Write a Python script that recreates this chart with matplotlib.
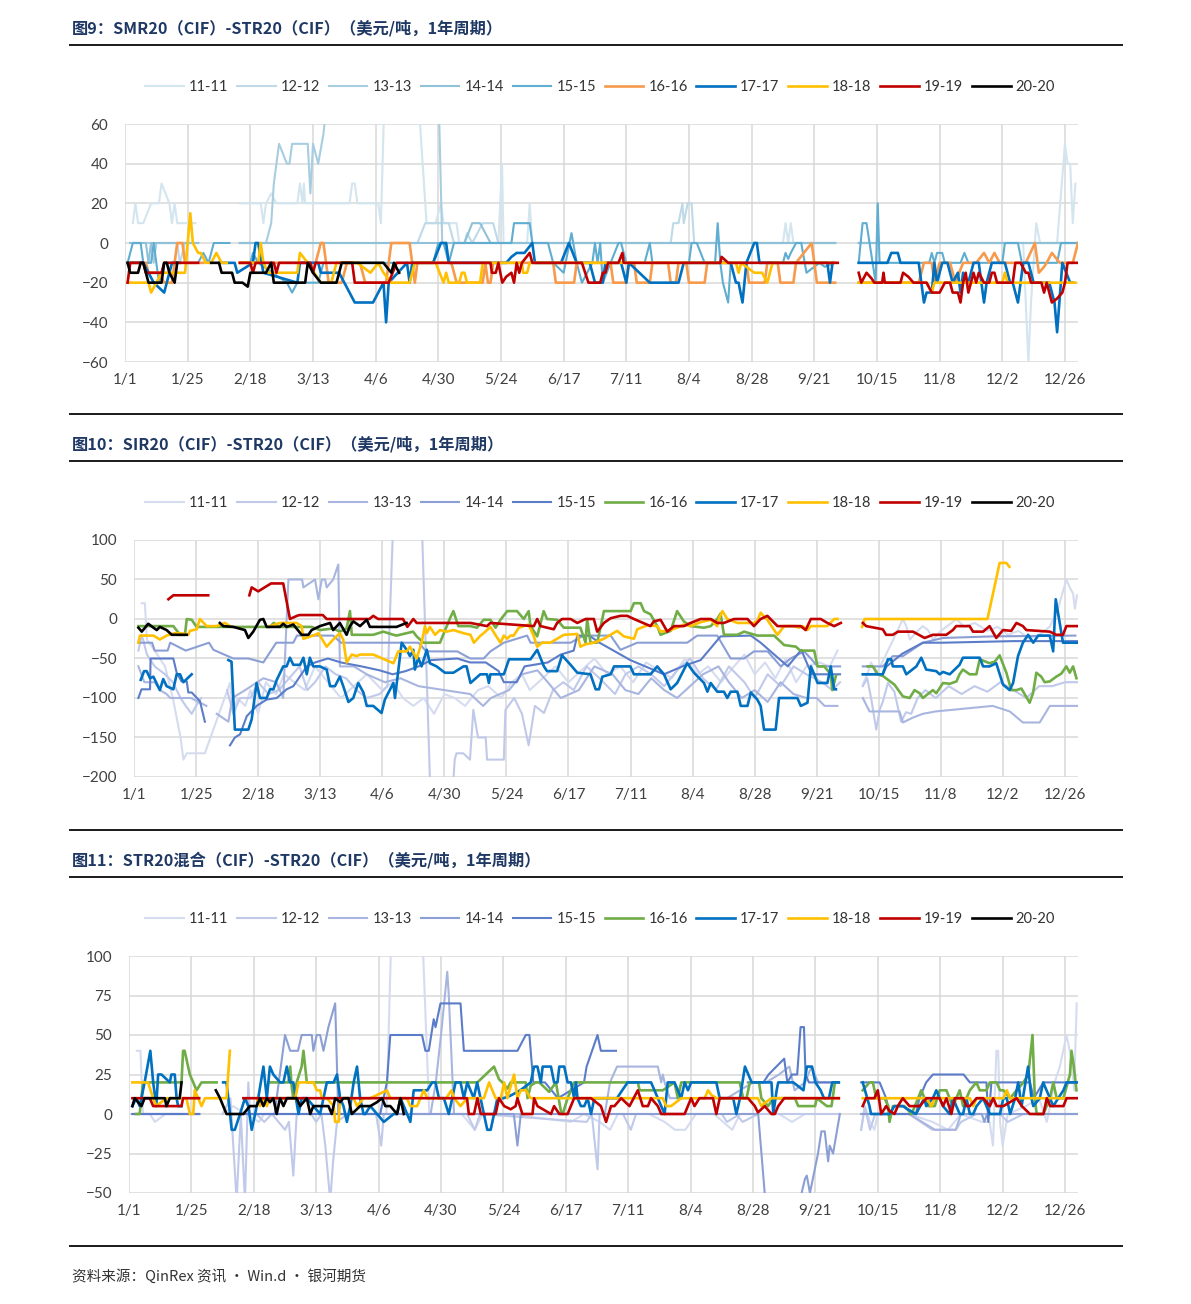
import numpy as np
import matplotlib
matplotlib.use("Agg")
import matplotlib.pyplot as plt
from matplotlib.lines import Line2D

plt.rcParams['font.family'] = ['Lato', 'Noto Sans CJK SC', 'DejaVu Sans']

# x = day offset from 1/1 (leap year), y = spread in USD/t; None = gap
tick_days = list(range(0, 361, 24))
tick_labels = ['1/1', '1/25', '2/18', '3/13', '4/6', '4/30', '5/24', '6/17',
               '7/11', '8/4', '8/28', '9/21', '10/15', '11/8', '12/2', '12/26']
series_names = ['11-11', '12-12', '13-13', '14-14', '15-15',
                '16-16', '17-17', '18-18', '19-19', '20-20']

# ---------------- chart 1: SMR20 - STR20 ----------------
p1_11 = [(3, 10), (4, 20), (5, 10), (7, 10), (10, 20), (13, 20), (14, 30), (17, 20), (18, 10), (19, 20), (20, 10), (27, 10), None,
         (44, 20), (52, 20), (53, 10), (54, 20), (56, 25), (58, 20), (66, 20), (67, 30), (68, 20), (68.5, 30), (69, 20), (86, 20),
         (87, 30), (88, 30), (89, 20), (97, 20), (98, 10), (99.5, 80), (112, 80), (115.5, 10), (119, 10), (121, 20), (122, 10),
         (127, 10), (128, 0), (143, 0), (144.4, 40), (145, 0), (154, 0), (155, 20), (156, 0), (252, 0), (253, 10), (254, 0),
         (255, 10), (256, 0), (272, 0), None,
         (281, 0), (344, 0), (346, -60), (347, -30), (349, 10), (350.5, 0), (357, 0), (360, 50), (361, 40), (362, 40), (363, 10), (364, 30)]
p1_12 = [(2, 0), (20, 0), (21, -10), (23, 0), (28, 0), None,
         (44, 0), (112, 0), (115, 10), (124, 10), (126, 0), (130, 0), (131, 5), (133, 0), (137, 10), (141, 10), (142, 5), (143, 0),
         (209, 0), (210, 10), (212, 10), (213.5, 20), (214, 10), (215.5, 20), (217, 20), (218, 0), (272, 0), None,
         (281, 0), (365, 0)]
p1_13 = [(2, 0), (10, 0), (11, -10), (12, 0), (28, 0), None,
         (44, 0), (54, 0), (56, 10), (57, 30), (59, 50), (62, 40), (63, 40), (64, 50), (70, 50), (71, 25), (72, 50), (74, 40),
         (76, 55), (78, 80), (120, 80), (121.5, 0), (272, 0), None,
         (281, 0), (365, 0)]
p1_14 = [(2, 0), (8, 0), (9, -10), (10, 0), (28, 0), None,
         (44, 0), (130, 0), (133, 10), (136, 10), (138, 5), (140, 0), (272, 0), None,
         (281, 0), (365, 0)]
p1_15 = [(1, -10), (3, 0), (6, 0), (7, -10), (10, -10), (11, 0), (12, -10), (13, -20), (15, -10), (22, -10), (28, -10),
         (30, -5), (32, -10), (34, 0), (40, 0), None,
         (44, -10), (48, -10), (49, -5), (51, -10), (62, -20), (64, -25), (66, -20), (69, -20), (74, -20), (76, -10), (118, -10),
         (120, 0), (122, 0), (124, -10), (126, 0), (148, 0), (149, 10), (155, 10), (156, 0), (162, 0), (164, -10), (168, -15),
         (171, 5), (173, -10), (175, -20), (177, -15), (179, -10), (180, 0), (181, -10), (182, 0), (183, -20), (186, -10),
         (189, 0), (190, 0), (192, -10), (199, -10), (201, 0), (202, -10), (216, -10), (217, 0), (219, 0), (222, -10),
         (226, -10), (227, 10), (228, -10), (229, -20), (231, -30), (232, -10), (252, -10), (253, -5), (254, -8), (255, -5),
         (257, 0), (259, 0), (261, -15), (263, -13), (266, -10), (268, -12), (272, -10), None,
         (281, -10), (282.5, 10), (284, 10), (287.5, -20), (288.3, 20), (289, -10), (308, -10), (309, -5), (310, -10),
         (311, -5), (313, -5), (314, -10), (320, -10), (321.5, -5), (323, -10), (336, -10), (337, 0), (342, 0), (343.5, -10),
         (357, -10), (358.5, 0), (365, 0)]
p1_16 = [(1, -10), (8, -10), (9, -15), (13, -15), (15, -20), (18, -20), (19, -10), (20, 0), (22, 0), (23, -10), (30, -10), None,
         (44, -10), (73, -10), (75, 0), (76, 0), (77, -10), (78, -20), (83, -20), (85, -10), (90, -10), (92, -20), (100, -20),
         (102, 0), (109, 0), (111, -20), (112, -10), (125, -10), (127, -20), (137, -20), (138, -10), (139, -20), (140, -20),
         (141, -10), (164, -10), (165, -20), (172, -20), (173, -10), (186, -10), (187, -20), (192, -20), (193, -10), (195, -10),
         (196, -20), (201, -20), (202, -10), (208, -10), (209, -20), (211, -20), (212, -10), (215, -10), (216, -20), (222, -20),
         (223, -10), (238, -10), (239, -20), (245, -20), (246, -10), (250, -10), (251, -20), (256, -20), (257, -10), (263, 0),
         (265, -20), (272, -20), None,
         (281, -20), (304, -20), (306, -10), (309, -10), (310, -20), (312, -10), (316, -10), (318, -20), (321, -10), (326, -10),
         (329, -5), (331, -10), (333, -5), (335, -10), (345, -10), (348.5, 0), (350, -15), (352, -12), (353, -10), (355, -5),
         (358, -10), (363, -10), (365, 0)]
p1_17 = [(1, -10), (7, -10), (9, -15), (11, -20), (15, -25), (17, -15), (18, -10), (21, -10), None,
         (36, -10), (42, -10), (43, -15), (49, -10), (50, 0), (51, 0), (53, -15), (66, -20), (67, -10), (74, -10), (75, -15),
         (82, -15), (88, -30), (95, -30), (99, -20), (100, -40), (101, -20), (108, -10), (109, -20), (110, -10), (118, -10),
         (121, 0), (123, 0), (124, -10), (146, -10), (148, -7), (150, -5), (153, -5), (156, 0), (157, -10), (167, -10),
         (170, 0), (173, -10), (178, -10), (180, -20), (183, -20), (184, -10), (190, -10), (192, -20), (193, -10), (201, -20),
         (212, -20), (214, -10), (232, -10), (234, -20), (235, -20), (236.5, -30), (238, -10), (241, 0), (242, 0), (243, -10),
         (269, -10), (270, -20), (271, -10), None,
         (281, -10), (292, -10), (293.5, -5), (296, -5), (297, -10), (304, -10), (306, -30), (307, -25), (309, -25), (310, -10),
         (311, -20), (313, -10), (315, -10), (317, -20), (319, -15), (320, -25), (321, -15), (323, -20), (325, -10), (327, -10),
         (329, -30), (330, -20), (332, -10), (337, -10), (339, -20), (340, -20), (342, -30), (344, -10), (346, -10), (348, -20),
         (354, -20), (356, -30), (357, -45), (359, -10), (362, -20), (363, -20)]
p1_18 = [(1, -20), (9, -20), (10, -25), (12, -20), (14, -15), (23, -15), (25, 15), (26, 0), (28, -5), (29, -5), (31, -10),
         (33, -10), (35, -5), (37, -10), (39, -10), None,
         (44, -10), (51, -10), (52, 0), (53, -10), (55, -15), (66, -15), (67, -5), (70, -10), (75, -20), (79, -20), (81, -10),
         (89, -10), (94, -15), (97, -10), (99, -15), (102, -20), (109, -20), (111, -10), (119, -10), (122, -20), (123, -15),
         (124, -20), (128, -20), (129, -15), (130, -15), (131, -20), (136, -20), (137, -10), (152, -10), (152.5, -15),
         (154, -15), (155, -10), (234, -10), (235, -15), (236, -10), (241, -15), (244, -15), (246, -20), (248, -10), (272, -10), None,
         (281, -20), (307, -20), (309, -25), (310, -20), (336, -20), (337, -15), (338, -20), (364, -20)]
p1_19 = [(1, -20), (2, -10), (7, -10), (8, -15), (14, -15), (15, -10), (28, -10), None,
         (44, -10), (48, -10), (49, -15), (50, -10), (57, -10), (58, -15), (59, -10), (71, -10), (72, -15), (73, -10), (87, -10),
         (88, -20), (101, -20), (104, -10), (140, -10), (140.5, -15), (142, -15), (143, -10), (144.5, -20), (146, -17),
         (148, -15), (149, -20), (150, -10), (151, -15), (152, -10), (155, -5), (156, -10), (175, -10), (177.5, -20), (182, -20),
         (183, -15), (184, -15), (185, -10), (189, -10), (190.5, -5), (191, -10), (228, -10), (228.5, -7), (231, -10), (273, -10), None,
         (281, -15), (282, -20), (284, -15), (286, -18), (287, -20), (290, -20), (290.5, -15), (291, -20), (297, -20), (298, -15),
         (300, -17), (302, -20), (307, -20), (309, -25), (312, -25), (314, -20), (316, -20), (317, -25), (319, -25), (320, -30),
         (321, -20), (322, -15), (323, -25), (324, -20), (325, -15), (326, -20), (327, -15), (329, -20), (331, -20), (332, -15),
         (333, -15), (334, -20), (340, -20), (341, -10), (343, -10), (345, -15), (346, -15), (347, -20), (351, -20), (352, -25),
         (353, -20), (355, -30), (357, -28), (359, -25), (360, -20), (361, -10), (365, -10)]
p1_20 = [(1, -10), (2, -15), (5, -15), (6, -10), (7, -10), (8, -15), (9, -20), (14, -20), (15, -10), (16, -10), (17, -15),
         (19, -20), (20, -10), None,
         (33, -10), (36, -10), (37, -15), (41, -15), (42, -20), (45, -20), (47, -22), (48, -15), (54, -15), (56, -10), (57, -20),
         (69, -20), (70, -10), (72, -15), (75, -20), (81, -20), (83, -10), (99, -10), (102, -15), (103, -10), (105, -15)]

# ---------------- chart 2: SIR20 - STR20 ----------------
p2_11 = [(3, 20), (4.2, 20), (5, -26), (8, -40), (12, -60), (15, -100), (18, -150), (19.1, -178), (20.4, -170), (27.4, -170),
         (37.1, -81), (38.4, -120), (40, -100), (43, -110), (45, -90), (48, -120), (51, -80), (55, -95), (58, -70), (62, -80),
         (66, -90), (70, -60), (75, -80), (80, -100), (85, -85), (90, -70), (96, -90), (100, -80), (104, -100), (108, -110),
         (112, -100), (116, -120), (120, -95), (124, -100), (128, -110), (133, -90), (137, -85), (142, -100), (146, -80),
         (150, -70), (153, -90), (158, -75), (163, -60), (168, -80), (173, -65), (178, -50), (183, -70), (188, -60), (193, -80),
         (198, -55), (203, -65), (208, -75), (213, -50), (218, -70), (222, -60), (227, -80), (232, -60), (236, -45), (240, -70),
         (244, -55), (248, -75), (252, -50), (256, -80), (260, -60), (265, -55), (269, -60), (272, -40), None,
         (281.8, -83), (283.5, -70), (285, -55), (287, -70), (290, -50), (293, -30), (297.3, 0), (298.6, -9), (300, -26),
         (303, -15), (305, -9), (307, -14), (309, -26), (312, -15), (316, -5), (318, 0), (321, -10), (325, -5), (330, -15),
         (334, -10), (338, -20), (342, -15), (346, -25), (350, -20), (354, -10), (357, 10), (360.5, 50), (361.8, 40),
         (363.1, 32), (363.8, 13), (364.6, 30)]
p2_12 = [(1.7, -40), (3, -20), (5, -45), (8, -60), (12, -70), (15, -80), (18, -100), (20, -110), (22.3, -120), (24, -110),
         (26, -100), None,
         (36, -90), (38.4, -120), (41, -100), (45, -100), (48, -80), (52, -95), (56, -90), (60, -75), (64, -60), (67, -90),
         (70, -80), (74, -60), (78, -70), (82, -75), (86, -90), (90, -100), (95, -95), (98, -85), (100.3, 130), (111.2, 130),
         (114.4, -200), (116, -230), (123, -230), (124, -178), (124.7, -170), (127.3, -170), (129.9, -178), (131.2, -115),
         (133, -150), (136, -150), (136.5, -178), (143, -178), (143.6, -115), (147, -100), (150, -120), (152.6, -160),
         (155, -110), (158.5, -119), (162, -90), (166, -80), (170, -90), (175, -60), (180, -75), (186, -95), (190, -70),
         (195, -60), (200, -70), (205, -85), (210, -65), (215, -50), (220, -75), (225, -90), (230, -60), (236, -80), (240, -100),
         (245, -70), (250, -85), (255, -60), (260, -70), (266, -80), (270, -90), (273, -80), None,
         (281.8, -85), (283.5, -75), (285, -100), (287, -140), (288.3, -115), (289.5, -105), (291.5, -81), (294, -92),
         (296.6, -130), (298.5, -118), (300.5, -120), (303, -100), (306, -90), (310, -100), (315, -85), (320, -95), (325, -85),
         (330, -92), (335, -80), (340, -90), (345, -100), (350, -85), (355, -85), (360, -80), (365, -80)]
p2_13 = [(1.7, -60), (4, -80), (8, -80), (10, -90), (12.6, -95), (14, -100), (22, -100), (25, -105), (28, -110), None,
         (32, -120), (36.5, -130), (38, -100), (43, -90), (50, -75), (55, -80), (57.7, -100), (59.7, 50), (65, 50), (65.5, 40),
         (70, 50), (71.3, 25), (72.6, 50), (73.9, 50), (74.5, 40), (77, 50), (79, 69), (79.6, -60), (85, -60), (90, -70),
         (97, -80), (103, -75), (110, -85), (120, -90), (130, -95), (135, -110), (138, -100), (145, -90), (150, -70), (156, -65),
         (160, -80), (165, -100), (172, -90), (178, -60), (185, -70), (190, -90), (195, -95), (200, -75), (205, -90),
         (210, -100), (215, -85), (220, -70), (226, -60), (230, -80), (235, -100), (240, -90), (245, -105), (250, -80),
         (255, -95), (260, -100), (264, -100), (267, -110), (272, -110), None,
         (281.8, -100), (284.4, -117), (296, -117), (297.3, -131), (301, -125), (305, -120), (310, -117), (332, -110),
         (338.6, -117), (343.7, -131), (350.2, -131), (354.1, -110), (365, -110)]
p2_14 = [(1.7, -30), (7, -30), (8, -40), (13, -40), (14, -30), (20, -40), (29, -30), (30.7, -39), (38.4, -50), (44.2, -50),
         (50, -55), (55, -30), (61.6, -30), (63, -21), (77, -21), (80, -30), (110, -30), (113, -41), (125, -41), (130, -50),
         (135.2, -50), (137.8, -41), (143, -30), (152, -21), (153.3, -30), (168.8, -30), (173.9, -21), (184.3, -21),
         (188.1, -39), (194.6, -30), (213.9, -30), (217.8, -21), (225.5, -21), (230.7, -50), (235.9, -50), (239.7, -41),
         (245, -41), (250.1, -60), (253.9, -50), (259.1, -41), (261.7, -50), (264.3, -60), (273, -60), None,
         (281.8, -60), (289.5, -60), (293.4, -47), (297.3, -47), (305, -30), (310.2, -26), (312.8, -24), (332.1, -22), (364, -21)]
p2_15 = [(1.7, -100), (2.9, -89), (6.2, -89), (6.4, -50), (15.2, -50), (16.5, -68), (18.4, -79), (20.4, -79), (21, -93),
         (22.3, -93), (25.5, -104), (27.4, -130), None,
         (37.1, -160), (39, -150), (41, -146), (43.6, -123), (47.4, -110), (51.3, -102), (55.2, -100), (59, -89), (61.6, -85),
         (66.8, -60), (70, -55), (75, -50), (80, -55), (88, -60), (95, -65), (100, -70), (105, -66), (110, -60), (115, -52),
         (125, -50), (130, -55), (136, -55), (141, -66), (143, -80), (148, -80), (151, -60), (160, -55), (165, -45), (170, -40),
         (171.4, -21), (176, -21), (180, -30), (191.9, -52), (204.9, -70), (212, -60), (219.1, -52), (226.8, -22), (238.5, -21),
         (242.3, -30), (252.8, -60), (258, -39), (262, -70), (273, -70), None,
         (281.8, -70), (289.5, -70), (291, -60), (297, -44), (305, -30), (312.8, -30), (340, -28), (365, -28)]
p2_16 = [(1.7, -9), (15.2, -9), (17.8, -20), (19.7, -20), (20.4, 0), (22.3, -1), (24.2, -10), (33, -10), (46, -10),
         (52.6, -10), (54, -5), (56.4, -10), (68.7, -10), (71.9, -14), (77, -12), (79.6, -16), (82.2, -12), (83.5, 10),
         (84.2, -20), (92.5, -20), (96.4, -16), (100.3, -20), (101.5, -21), (107.9, -16), (109.3, -22), (111.9, -30),
         (118.3, -30), (122.2, 1), (123.5, 10), (125.4, -9), (130.1, -9), (132.6, -11), (135.2, -1), (137.8, -1),
         (139.8, -11), (141.7, -1), (144.3, 10), (148.1, 10), (150.7, 0), (152.6, 10), (153.3, -9), (155.9, -22), (158.4, 10),
         (159.7, 0), (163.6, -1), (166.2, -11), (172.6, -11), (174.6, -30), (175.2, 0), (176.5, -30), (179.1, -30),
         (181.7, 10), (192, 10), (193.3, 20), (195.9, 20), (197.2, 10), (199.7, 6), (202.3, -9), (203.6, -20), (207.5, -15),
         (210, 10), (212.6, -3), (215.2, -9), (220.4, -11), (223, -9), (225.5, 0), (226.8, 7), (228.1, -20), (233.3, -20),
         (235.9, -16), (241, -21), (247.5, -21), (251.4, -33), (255.9, -35), (257.6, -40), (263, -40), (264.3, -60),
         (266.9, -60), (269.4, -70), (270, -90), (271.4, -72), None,
         (283.7, -60), (285.7, -60), (287.6, -70), (289.5, -72), (294, -83), (297.3, -98), (299.9, -100), (301.8, -90),
         (303.8, -94), (305, -100), (308.9, -90), (310.2, -94), (312.8, -81), (315.4, -82), (318, -79), (319.2, -70),
         (320.5, -64), (323.1, -70), (325.7, -70), (327, -51), (330.8, -56), (332.8, -54), (334.7, -46), (337.3, -68),
         (339.2, -90), (341.2, -90), (343.1, -88), (346.3, -106), (347.6, -94), (348.9, -68), (350.8, -73), (352.1, -80),
         (354.1, -79), (356.6, -73), (358.6, -69), (360.5, -60), (361.8, -68), (363.1, -60), (364.4, -75)]
p2_17 = [(2.6, -77), (3.9, -66), (4.9, -66), (6.2, -75), (7.5, -73), (10, -90), (11.3, -76), (12.6, -85), (15.2, -89),
         (16.5, -70), (17.8, -70), (19.1, -80), (22.3, -70), None,
         (36.5, -52), (37.7, -54), (39, -140), (44.2, -140), (45.5, -127), (47.4, -81), (48.7, -100), (51.3, -100),
         (52.6, -89), (53.9, -89), (55.2, -77), (57.7, -60), (59, -60), (60.3, -49), (61.6, -58), (64.2, -58), (65.5, -49),
         (66.8, -70), (68, -49), (69.3, -60), (71.9, -60), (74.5, -64), (75.8, -85), (77.7, -85), (79.6, -73), (80.9, -85),
         (82.9, -105), (84.8, -100), (86.7, -81), (88.7, -93), (90, -110), (92.5, -110), (95.7, -119), (97, -102),
         (100.3, -81), (100.9, -100), (103.5, -30), (105.4, -39), (106.7, -47), (108, -39), (108.6, -64), (109.9, -49),
         (111.2, -60), (113.2, -39), (114.4, -56), (117, -60), (120.2, -68), (123.5, -68), (127.4, -60), (128.6, -60),
         (130.1, -81), (133.9, -70), (136.5, -70), (137.2, -81), (137.8, -70), (143, -70), (145, -51), (153.3, -51),
         (155.9, -39), (158.5, -60), (159.7, -66), (163.6, -66), (165.5, -46), (168.8, -58), (171.4, -68), (176.5, -70),
         (178.5, -89), (179.8, -89), (181.1, -73), (184.3, -70), (185.6, -60), (191.9, -60), (193.3, -70), (199.7, -70),
         (202.3, -60), (204.9, -70), (207.5, -89), (210, -81), (213.9, -56), (216.5, -68), (220.4, -81), (221.7, -92),
         (223, -81), (225.5, -92), (228.1, -92), (229.4, -100), (230.7, -92), (233.3, -92), (234.6, -110), (237.2, -110),
         (238.5, -93), (241, -102), (242.3, -110), (243.6, -140), (248.1, -140), (249.4, -100), (256.5, -100),
         (257.8, -110), (260.4, -106), (261.7, -60), (263, -70), (264.3, -81), (268.1, -81), (269.4, -60), (270.7, -89),
         (271.4, -89), None,
         (281.8, -70), (289.5, -70), (291.5, -51), (292.8, -51), (293.4, -60), (297.3, -60), (298.6, -70), (302.5, -60),
         (304.4, -49), (306.3, -64), (310.2, -66), (311.5, -70), (312.8, -67), (315.4, -70), (319.2, -58), (320.5, -49),
         (327, -49), (328.3, -60), (330.8, -60), (333.4, -56), (336, -83), (338.6, -90), (339.9, -81), (341.8, -47),
         (343.7, -30), (345.7, -20), (347.7, -30), (349.6, -21), (354.1, -21), (355.4, -41), (356.4, 25), (359.2, -30), (365, -30)]
p2_18 = [(1.7, -30), (2.3, -21), (7.5, -21), (10, -26), (12.6, -21), (15.8, -18), (18.4, -18), (21, -20), (21.6, -15),
         (24.2, -13), (25.5, 0), (28.1, -9), (31.9, -9), (35.2, -5), (37.1, -9), None,
         (52.6, -9), (56.4, -5), (62.9, -5), (64.8, -9), (65.5, -25), (69.3, -21), (71.3, -18), (74.5, -35), (77, -26),
         (79.6, -18), (80.9, -26), (82.2, -55), (84.2, -45), (86.1, -47), (87.4, -45), (92.5, -45), (100.3, -56), (102.2, -41),
         (105.4, -41), (106.7, -35), (109.3, -50), (111.2, -30), (112.5, -9), (113.2, -18), (114.4, -10), (116.4, -20),
         (118.3, -14), (120.9, -16), (123.5, -14), (127.4, -18), (130.1, -20), (131.4, -30), (134, -21), (135.2, -18),
         (137.8, -10), (139.9, -21), (141.7, -30), (143, -21), (144.3, -25), (145.5, -21), (146.8, -21), (148.8, -11),
         (152.6, -7), (154.6, -22), (155.9, -35), (157.8, -30), (161, -30), (166.2, -20), (171.4, -19), (172.6, -35),
         (174.6, -32), (177.8, -30), (181.7, -25), (186.8, -15), (189.4, -22), (193.3, -25), (194.6, -13), (198.5, -8),
         (202.3, -9), (203.6, -16), (207.5, -14), (211.4, -9), (212.6, -7), (215.2, -9), (219.1, -4), (223, -1), (225.5, -9),
         (226.2, 1), (227.5, 10), (229.4, 0), (233.3, -5), (239.7, -5), (241, -2), (242.3, 8), (243.6, 3), (244.9, -1),
         (247.5, -14), (248.8, -20), (251.4, -9), (255.2, -9), (257.2, -11), (258.5, -9), (260.4, -14), (261.7, -9),
         (268.1, -9), (270.7, 0), (272, 0), None,
         (281.5, -10), (282.5, 0), (330, 0), (334.7, 71), (337.3, 71), (338.5, 66)]
p2_19 = [(13.3, 25), (15.2, 30), (28.7, 30), None,
         (44.6, 30), (45.5, 40), (48, 35), (53, 45), (57.7, 45), (60.3, 0), (63, 4), (64, 5), (73, 5), (74.5, 0), (91, 0),
         (92.5, 4), (94.4, 0), (104, 0), (105.7, -10), (108, 0), (109.3, -5), (128.6, -5), (130.1, -5), (136.5, -9),
         (137.8, -5), (154.6, -9), (155.9, 0), (157.2, -9), (162.3, -13), (163.6, -5), (165.5, 0), (168.8, 0), (171.4, -5),
         (174.6, 0), (177.8, 0), (179.1, -16), (181.7, -5), (184.3, 1), (188.1, 4), (190.7, 4), (193.3, 0), (199.7, -9),
         (201, -3), (203.6, -1), (206.2, -16), (208.8, -9), (212.6, -9), (215.2, -5), (219.1, 0), (223, 0), (225.5, -5),
         (228.1, -5), (232, 0), (237.2, 0), (239.7, -9), (242.3, 0), (244.9, 4), (248.8, -9), (257.8, -9), (259.7, -14),
         (261.7, 0), (265.5, 0), (268.1, -5), (270.7, -9), (273.3, -5), None,
         (281.8, -5), (283.1, -9), (289.5, -13), (290.8, -20), (293.4, -20), (295.4, -16), (301.2, -16), (305.7, -24),
         (308.9, -20), (314.1, -20), (316.6, -14), (317.9, -9), (323.1, -9), (324.4, -16), (328.3, -16), (330.8, -9),
         (333.4, -24), (336, -14), (339.2, -15), (341.2, -5), (343.7, -9), (345, -14), (354.1, -16), (356.6, -20),
         (359.2, -20), (360.5, -9), (365, -9)]
p2_20 = [(1.7, -11), (3, -16), (5.5, -6), (7.5, -11), (8.8, -14), (10, -10), (12.6, -14), (14.6, -20), (20.4, -20), None,
         (33.2, -5), (34.5, -9), (38.4, -10), (42.9, -14), (44.2, -24), (46.1, -16), (48.7, -1), (50, 0), (51.3, -10),
         (56.4, -10), (57.7, -6), (59, -10), (61.6, -7), (64.8, -20), (67.4, -20), (68.7, -14), (71.9, -9), (75.8, -5),
         (77, -14), (79.6, -5), (82.2, -20), (83.5, -9), (84.8, -3), (87.4, -9), (90, -1), (91.2, -10), (101.5, -10),
         (105.4, -5)]

# ---------------- chart 3: STR20 mixed - STR20 ----------------
p3_11 = [(3, 40), (4.4, 40), (5.4, 0), (8, 0), (10, -5), (14, 0), (27, 0), None,
         (36, 0), (40, 5), (50, -5), (52, 0), (99, 0), (101, 120), (112.7, 120), (115.5, 0), (128, 0), (133, -10), (136, 0),
         (145, 0), (170, -5), (175, 0), (181, -5), (185, -10), (188, 0), (200, 0), (206, -5), (210, -10), (214, -10),
         (218, 0), (225, 0), (232, -10), (235, 0), (250, 0), (255, -5), (260, 0), (273, 0), None,
         (281.6, -10), (283, 5), (285, -5), (286.7, -10), (288, 0), (300, 0), (309, -5), (315, -10), (320, 0), (328, -5),
         (331, -5), (332.3, -20), (333.6, 40), (334.3, 40), (335, -5), (336, -20), (338, 0), (345, 5), (350, 10), (353, -5),
         (356, 20), (358, 30), (360.6, 50), (361.8, 40), (362.5, 35), (363.5, 15), (364.5, 70)]
p3_12 = [(1.3, 0), (27, 0), None,
         (36, 0), (39, 10), (41.4, -55), (43, 0), (44.6, -55), (45.9, 20), (46.5, 0), (49, 0), (52, -5), (55, 0), (60, -10),
         (61.5, -5), (63.2, -39), (64.5, 0), (70, 0), (72, -5), (74, 0), (75.5, -20), (77.4, -55), (78.5, -30), (80, -5),
         (84, 0), (95, 0), (97, -20), (98, 0), (130, 0), (133, -10), (135, 0), (176, -5), (178, 0), (180.2, -35), (181, 0),
         (190, 0), (193, -10), (195, 0), (228, 0), (230, -5), (234, -1), (236, -5), (242, 0), (273, 0), None,
         (281.6, -10), (283, 5), (285, -10), (287, 0), (300, 0), (309, -10), (318, -10), (320, -5), (326, 0), (335, 0),
         (338, -5), (344, 0), (365, 0)]
p3_13 = [(1.3, 0), (27, 0), None,
         (44, 0), (116, 0), (118, 20), (120, 50), (122.4, 90), (123, 75), (125, 0), (183, 0), (185, 20), (187.7, 30),
         (203.4, 30), (204.7, 20), (205.3, 25), (206, 20), (208, 10), (215, 10), (230, 10), (240, 20), (245, 20), (250, 25),
         (254, 30), (256, 15), (260, 20), (262.5, 30), (265, 20), (273, 20), None,
         (281.6, 0), (300, 0), (310, -10), (318, -10), (320, 0), (365, 0)]
p3_14 = [(1.3, 0), (27, 0), None,
         (44, 0), (56, 0), (58, 25), (60, 50), (62, 40), (65, 40), (66.4, 50), (70.3, 50), (70.9, 40), (72.2, 50), (73.5, 50),
         (74.8, 40), (76.7, 55), (79.3, 70), (80.5, 0), (148, 0), (149.4, -20), (150.7, 0), (242, 0), (245, -60), (258, -60),
         (258.7, -50), (260, -41), (260.7, -39), (261.9, -50), (265, -25), (266.3, -11), (267.6, -11), (268.9, -30),
         (269.5, -20), (270.8, -25), (273.4, 0), None,
         (281.6, 0), (328, 0), (329, -5), (330, 0), (365, 0)]
p3_15 = [(1.3, 0), (27, 0), None,
         (44, 0), (96.6, 0), (99.2, 20), (100.5, 50), (112.7, 50), (114, 40), (115.3, 40), (117.2, 60), (117.9, 55),
         (119.8, 70), (127.5, 70), (128.8, 40), (149.4, 40), (152.6, 50), (154, 50), (155.5, 20), (160, 20), (165, 10),
         (175, 20), (176, 30), (180.2, 50), (181.5, 40), (187.3, 40), None,
         (238, 20), (244, 20), (246, 25), (252, 35), (253.2, 20), (255, 25), (257, 25), (258.3, 55), (259.6, 55), (260.2, 25),
         (261.5, 20), (273, 20), None,
         (281.6, 20), (288.7, 20), (291.2, 10), (292.5, 0), (302.7, 0), (304, 10), (306.6, 20), (309.2, 25), (321, 25),
         (323.4, 20), (329.8, 20), (330.5, -5), (331.7, 20), (346.5, 20), (348, 10), (351.7, 20), (365, 20)]
p3_16 = [(2.8, 0), (4.1, 0), (5.4, 20), (20.2, 20), (20.8, 40), (21.4, 40), (23.4, 25), (26, 15), (27.9, 20), (33.7, 20), None,
         (53.6, 20), (61.3, 20), (62, 30), (62.6, 17), (63.2, 10), (64.5, 20), (66.4, 30), (67.1, 40), (68.4, 20), (134, 20),
         (140.4, 30), (142.3, 22), (143.6, 20), (145.5, 16), (146.8, 20), (152.6, 20), (153.3, 10), (154.5, 18), (156.5, 20),
         (157.8, 20), (161.6, 14), (164.2, 20), (166.2, 1), (166.8, 0), (168.7, 10), (171.2, 20), (195.7, 20), (196.4, 15),
         (205.3, 15), (209.8, 20), (211.1, 10), (212.4, 20), (234.9, 20), (236.2, 10), (237.5, 10), (238.8, 20), (242.3, 20),
         (243.2, 10), (245.8, 5), (247.8, 10), (256.1, 10), (257.4, 5), (263.9, 5), (264.5, 10), (268.4, 5), (270.2, 5),
         (271.5, 20), (273, 20), None,
         (282.2, 15), (284.8, 20), (286.1, 20), (287.4, 10), (290.6, 10), (292, 5), (292.5, -5), (293.8, 5), (298.2, 5),
         (301, 0), (303.5, 10), (304.7, 15), (306, 10), (307.3, 5), (309.9, 5), (311.8, 15), (314.4, 15), (315.6, 10),
         (316.9, 5), (318.2, 10), (319.5, 15), (320.8, 5), (322.1, 10), (323.4, 15), (325.9, 20), (327.2, 15), (329.8, 15),
         (331.1, 20), (333.7, 20), (335, 15), (336.3, 15), (338.9, 10), (341.4, 15), (344, 20), (345.9, 25), (347.5, 50),
         (348.4, 10), (349.1, 0), (351.7, 0), (354.2, 10), (355.5, 20), (356.8, 10), (359.4, 10), (361.9, 25), (362.5, 40),
         (363.4, 30), (364.4, 15)]
p3_17 = [(1.3, 5), (2.8, 10), (4.1, 5), (4.8, 10), (6, 20), (8.2, 40), (9.3, 20), (10.5, 5), (11.2, 25), (12.5, 25),
         (15.7, 20), (16.3, 25), (17.6, 25), (18.3, 10), (18.9, 5), (20.2, 5), None,
         (36.2, 20), (37.5, 20), (38.2, 10), (39.5, -10), (40.7, -10), (42.7, 0), (44.6, 10), (45.9, 5), (47.2, -10),
         (48.5, 0), (49.7, 10), (51.7, 30), (53, 10), (54.2, 30), (55.5, 25), (58.1, 20), (59.4, 20), (60.7, 30), (61.9, 20),
         (63.2, 20), (65.2, 0), (66.4, 10), (68.4, 10), (73.5, 0), (74.8, 10), (76.1, 20), (78.7, 20), (80, 25), (81.2, 10),
         (82.5, 5), (83.8, -5), (85.1, 5), (86.4, 20), (87.7, 30), (88.9, 10), (90.2, 0), (90.9, 0), (92.8, 5), (95.4, 0),
         (98, -5), (101.8, 0), (103.1, 0), (104.4, 10), (105.7, 5), (108.2, -5), (109.5, 15), (114.7, 15), (116.6, 20),
         (117.9, 20), (119.2, 10), (121.1, 10), (123, 0), (124.3, 10), (125.6, 20), (127.5, 20), (128.8, 10), (130.1, 20),
         (132.6, 10), (133.9, 20), (137.8, -10), (139.1, -10), (140.4, 0), (141.7, 10), (144, 10), (146.6, 11.5), (150.5, 15),
         (154.5, 20), (155.8, 30), (157.1, 30), (158.4, 20), (159.1, 30), (162.3, 30), (163.5, 20), (164.8, 20), (165.5, 30),
         (167.4, 30), (168.7, 20), (170, 20), (171.2, 10), (171.9, 20), (172.5, 10), (173.8, 5), (175.1, 5), (176.4, 10),
         (177.7, 0), (179, 10), (187.7, 10), (189.7, 15), (191.8, 20), (200.8, 20), (203.4, 10), (204.7, 5), (206, 0),
         (207.2, 20), (209.8, 20), (212.4, 10), (213.7, 20), (215, 15), (216.2, 20), (225.9, 20), (227.2, 10), (232.4, 10),
         (233.6, 0), (235, 10), (236.9, 30), (239.5, 20), (247.1, 20), (247.8, 0), (249.1, 15), (249.7, 20), (255.5, 20),
         (259.4, 15), (260.7, 30), (262.7, 30), (264, 20), (266, 15), (267.3, 10), (269.2, 10), (270.5, 20), (273, 20), None,
         (282.2, 20), (284.8, 5), (285.4, 0), (292.5, 0), (294.4, 5), (297.6, 5), (299.5, 3), (302.7, 0), (305.9, 10),
         (306.6, 5), (309.2, 10), (310.5, 15), (313.1, 5), (315.6, 0), (316.9, 10), (319.5, 0), (320.8, 0), (322.1, 10),
         (323.4, 0), (324.7, 0), (326, 5), (328.5, 10), (331.1, 0), (335, 0), (336.3, 10), (337.6, 10), (338.9, 0),
         (340.8, 10), (342, 20), (343.3, 5), (345.8, 30), (347.1, 10), (347.8, 5), (350.3, 10), (351.6, 20), (354.2, 10),
         (355.5, 5), (357.4, 10), (359.4, 15), (360.6, 20), (365, 20)]
p3_18 = [(1.3, 20), (7.3, 20), (9.3, 10), (10.5, 5), (14.4, 10), (22.1, 10), (23.4, 0), (24.7, 0), (25.3, 15), (27.9, 5),
         (29.2, 10), (37.5, 10), (38.8, 40), None,
         (49.1, 10), (50.4, 5), (51.7, 10), (53, 5), (54.2, 10), (63.9, 10), (65.2, 20), (71, 20), (72.2, 15), (73.5, 15),
         (74.2, 10), (76.1, 10), (78.7, 5), (79.3, -5), (80.6, -5), (81.2, 10), (86.4, 10), (87.7, 5), (90.2, 10), (92.8, 10),
         (99.2, 15), (100.5, 10), (106.9, 10), (108.2, 5), (110.8, 5), (113.4, 15), (114.7, 10), (122, 10), (124, 15),
         (125, 10), (127.5, 5), (130.1, 10), (136.5, 10), (138.5, 20), (141, 10), (143, 10), (144.3, 20), (145.5, 10),
         (148.1, 25), (149.4, 10), (150.7, 15), (152.6, 15), (154.5, 10), (205.3, 10), (206.6, 5), (208.5, 5), (212.4, 10),
         (221.4, 10), (222.7, 15), (224, 12), (226, 10), (241.9, 10), (243.2, 5), (244.5, 7), (247.1, 10), (273, 10), None,
         (282.2, 10), (306.7, 10), (308.6, 5), (309.9, 10), (323.4, 10), (324.7, 5), (326, 10), (336.3, 10), (337.6, 15),
         (338.9, 10), (360.6, 10)]
p3_19 = [(1.3, 10), (8, 10), (9.3, 5), (20.2, 5), (20.8, 10), (27, 10), None,
         (44, 10), (130, 10), (130.7, 0), (132.7, 0), (134, 10), (135.3, 0), (141, 0), (142.3, 10), (144.3, 5), (146.8, 3),
         (148.7, 5), (149.4, 10), (151.3, 0), (155.2, 0), (155.8, 10), (157.1, 5), (162.3, 0), (163.5, 5), (165.5, 0),
         (168.7, 0), (171.2, 10), (177.7, 10), (181.5, 5), (183.5, -5), (185.4, 5), (186.7, 5), (189.3, 10), (192.5, 5),
         (195.7, 15), (197.6, 5), (199.6, 5), (200.8, 10), (203.4, 5), (204.7, 0), (213.7, 0), (216.2, 10), (217.5, 5),
         (219.4, 10), (224.6, 10), (225.9, 0), (227.2, 10), (238.1, 10), (240.7, 5), (241.9, 1), (244.5, 5), (247.1, 0),
         (248.4, 0), (249.7, 5), (252, 10), (273, 10), None,
         (282.2, 5), (283.5, 10), (286.7, 10), (288, 15), (289.3, 0), (291.2, 5), (292.5, 2), (294.4, 0), (295.7, 5),
         (297.6, 10), (300.2, 5), (304.1, 5), (306.7, 10), (311.8, 10), (313.1, 5), (314.4, 10), (316.3, 0), (317.6, 10),
         (320.8, 10), (322.1, 5), (323.4, 5), (326, 10), (328.5, 10), (331.1, 5), (332.4, 10), (333.7, 5), (336.3, 5),
         (341.4, 10), (343.4, 5), (346.5, 0), (351.7, 0), (353, 10), (354.3, 5), (359.4, 5), (360.6, 10), (365, 10)]
p3_20 = [(1.3, 5), (2.2, 10), (3.5, 7.5), (4.8, 5), (6, 10), (13.8, 10), (14.4, 5), (15.7, 10), (19.5, 10), (20.2, 20), None,
         (33.4, 15), (35, 10), (37.5, 0), (44, 0), (46.5, 5), (49.1, 5), (50.4, 10), (51.7, 5), (53, 10), (54.2, 7.5),
         (55.5, 10), (56.8, 0), (58.1, 10), (59.4, 5), (60.7, 10), (64.5, 10), (65.8, 5), (67.1, 7.5), (68.4, 10), (69.7, 0),
         (70.9, 5), (76.7, 5), (78, 0), (79.3, 10), (81.2, 7.5), (82.5, 10), (84.4, 10), (85.7, 0), (88.9, 5), (92.8, 5),
         (95.4, 7.5), (97.3, 10), (98.6, 5), (100.5, 5), (103.1, 0), (104.4, 10), (105.7, 0)]

colors_blue = ['#d3e5ef', '#bed9e7', '#a8cde0', '#8fc1d8', '#5fadd0']
colors_lav = ['#d6dcf0', '#c0c9e9', '#a8b5df', '#8b9fd5', '#5b7cc9']
colors_1 = colors_blue + ['#f79a4c', '#0070c0', '#ffc000', '#c00000', '#000000']
colors_2 = colors_lav + ['#70ad47', '#0070c0', '#ffc000', '#c00000', '#000000']
widths = [1.5] * 5 + [1.9] * 5

charts = [
    dict(title='图9：SMR20（CIF）-STR20（CIF）（美元/吨，1年周期）',
         data=[p1_11, p1_12, p1_13, p1_14, p1_15, p1_16, p1_17, p1_18, p1_19, p1_20],
         colors=colors_1, ylim=(-60, 60), yticks=list(range(-60, 61, 20)),
         rect=[125, 124, 1078, 362], title_y=28, legend_y=87),
    dict(title='图10：SIR20（CIF）-STR20（CIF）（美元/吨，1年周期）',
         data=[p2_11, p2_12, p2_13, p2_14, p2_15, p2_16, p2_17, p2_18, p2_19, p2_20],
         colors=colors_2, ylim=(-200, 100), yticks=list(range(-200, 101, 50)),
         rect=[134, 540, 1078, 777], title_y=444, legend_y=503),
    dict(title='图11：STR20混合（CIF）-STR20（CIF）（美元/吨，1年周期）',
         data=[p3_11, p3_12, p3_13, p3_14, p3_15, p3_16, p3_17, p3_18, p3_19, p3_20],
         colors=colors_2, ylim=(-50, 100), yticks=list(range(-50, 101, 25)),
         rect=[129, 956, 1078, 1193], title_y=860, legend_y=919),
]


def to_xy(knots):
    xs, ys = [], []
    for k in knots:
        if k is None:
            xs.append(np.nan)
            ys.append(np.nan)
        else:
            xs.append(k[0])
            ys.append(k[1])
    return np.array(xs, dtype=float), np.array(ys, dtype=float)


W, H = 1191, 1304
fig = plt.figure(figsize=(W / 100, H / 100), dpi=100)

for ch in charts:
    l, t, r, b = ch['rect']
    ax = fig.add_axes([l / W, 1 - b / H, (r - l) / W, (b - t) / H])
    for name, knots, col, lw in zip(series_names, ch['data'], ch['colors'], widths):
        x, y = to_xy(knots)
        ax.plot(x, y, color=col, lw=lw, label=name, solid_joinstyle='round')
    ax.set_xlim(0, 365)
    ax.set_ylim(*ch['ylim'])
    ax.set_xticks(tick_days)
    ax.set_xticklabels(tick_labels)
    ax.set_yticks(ch['yticks'])
    ax.grid(True, color='#d9d9d9', lw=1.1)
    ax.set_axisbelow(True)
    for s in ax.spines.values():
        s.set_visible(False)
    ax.tick_params(length=0, labelsize=11, colors='#404040')
    ax.tick_params(axis='y', pad=12)
    ax.tick_params(axis='x', pad=8)
    ax.legend(loc='center', bbox_to_anchor=(600 / W, 1 - ch['legend_y'] / H),
              bbox_transform=fig.transFigure, ncol=10, frameon=False,
              fontsize=10.5, handlelength=2.65, handletextpad=0.35,
              columnspacing=0.6, labelcolor='#333333')
    fig.text(72 / W, 1 - ch['title_y'] / H, ch['title'], ha='left', va='center',
             fontsize=11.7, fontweight='bold', color='#1f3864',
             family=['Noto Sans CJK SC', 'DejaVu Sans'])

for yy in [45, 414, 461, 830, 877, 1246]:
    fig.add_artist(Line2D([70 / W, 1122 / W], [1 - yy / H, 1 - yy / H],
                          transform=fig.transFigure, color='#1a1a1a', lw=1.4))

fig.text(72 / W, 1 - 1276 / H, '资料来源：QinRex 资讯 · Win.d · 银河期货', ha='left', va='center',
         fontsize=10.5, color='#333333', family=['Noto Sans CJK SC', 'DejaVu Sans'])

fig.savefig('out.png', dpi=100)
